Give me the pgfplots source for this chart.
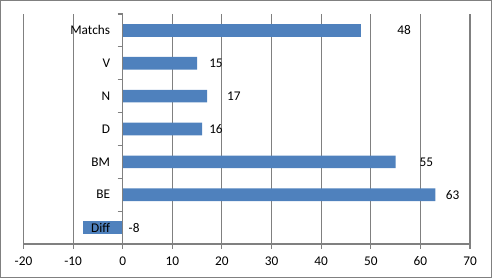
\documentclass[border=0pt]{standalone}
\usepackage{pgfplots}
\pgfplotsset{compat=1.18}
\usepackage{fontspec}
\setmainfont{Carlito}
\definecolor{barblue}{HTML}{4F81BD}
\definecolor{axgray}{HTML}{808080}
\pgfplotsset{
  layers/mylayers/.define layer set={
    axis background,axis grid,pre main,main,axis ticks,axis lines,axis tick labels,axis descriptions,axis foreground
  }{/pgfplots/layers/standard},
}
\begin{document}
\fontsize{13.3bp}{16bp}\selectfont
\begin{tikzpicture}
\begin{axis}[
  set layers=mylayers,
  at={(23.5bp,34bp)}, anchor=south west,
  scale only axis,
  width=446.5bp, height=230bp,
  xmin=-20, xmax=70,
  ymin=-0.5, ymax=6.5,
  axis x line*=bottom,
  axis y line*=middle,
  axis line style={draw=axgray, line width=1.1bp, -},
  xtick={-20,-10,...,70},
  ytick={-0.5,0.5,...,6.5},
  yticklabels={},
  extra y ticks={0,...,6},
  extra y tick labels={Diff,BE,BM,D,N,V,Matchs},
  extra y tick style={major tick length=0pt, yticklabel style={xshift=-8bp}},
  tick align=outside,
  major tick length=5bp,
  tick style={draw=axgray, line width=1.1bp},
  xmajorgrids=true,
  grid style={draw=axgray, line width=1.1bp},
  /pgf/number format/assume math mode=true,
  tick label style={font=\fontsize{13.3bp}{16bp}\selectfont},
  xticklabel style={yshift=-3bp},
  clip=false,
]
\addplot[axgray, line width=1.1bp, mark=none, forget plot] coordinates {(-20,-0.5) (-20,6.5)};
\addplot[axgray, line width=1.1bp, mark=none, forget plot] coordinates {(-10,-0.5) (-10,6.5)};
\addplot[axgray, line width=1.1bp, mark=none, forget plot] coordinates {(10,-0.5) (10,6.5)};
\addplot[axgray, line width=1.1bp, mark=none, forget plot] coordinates {(20,-0.5) (20,6.5)};
\addplot[axgray, line width=1.1bp, mark=none, forget plot] coordinates {(30,-0.5) (30,6.5)};
\addplot[axgray, line width=1.1bp, mark=none, forget plot] coordinates {(40,-0.5) (40,6.5)};
\addplot[axgray, line width=1.1bp, mark=none, forget plot] coordinates {(50,-0.5) (50,6.5)};
\addplot[axgray, line width=1.1bp, mark=none, forget plot] coordinates {(60,-0.5) (60,6.5)};
\addplot[axgray, line width=1.1bp, mark=none, forget plot] coordinates {(70,-0.5) (70,6.5)};
\addplot[xbar, bar width=12.7bp, fill=barblue, draw=none] coordinates {
  (-8,0) (63,1) (55,2) (16,3) (17,4) (15,5) (48,6)
};
\addplot[draw=none, mark=none, nodes near coords, point meta=explicit symbolic,
  nodes near coords align={center},
  every node near coord/.style={font=\fontsize{13.3bp}{16bp}\selectfont, text=black}]
  coordinates {
  (2.3,0) [-8] (66.5,1) [63] (61.2,2) [55] (18.8,3) [16] (22.4,4) [17] (18.8,5) [15] (56.7,6) [48]
};
\end{axis}
\draw[draw=axgray, line width=1.1bp] (0.55bp,0.55bp) rectangle (491.45bp,277.45bp);
\end{tikzpicture}
\end{document}
